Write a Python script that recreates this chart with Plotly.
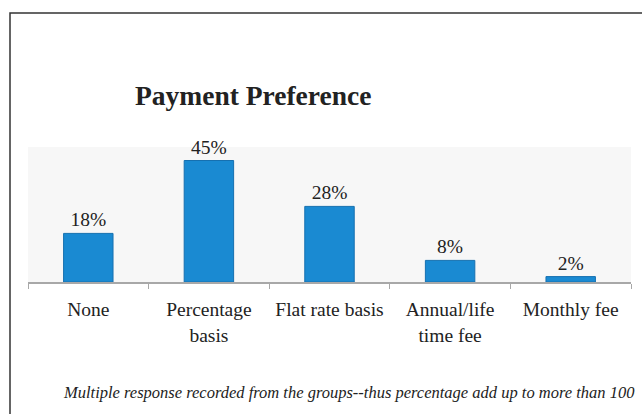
import plotly.graph_objects as go

categories = ["None", "Percentage<br>basis", "Flat rate basis", "Annual/life<br>time fee", "Monthly fee"]
values = [18, 45, 28, 8, 2]
labels = ["18%", "45%", "28%", "8%", "2%"]

W, H = 642, 414
L, R, T, B = 28, 11, 147, 132
pw, ph = W - L - R, H - T - B

def px(x):
    return (x - L) / pw

def py(y):
    return (H - B - y) / ph

serif = "Liberation Serif"

fig = go.Figure(go.Bar(
    x=categories, y=values, text=labels, textposition="outside",
    textfont=dict(family=serif, size=19.5, color="#222"),
    marker=dict(color="#1a8ad2", line=dict(color="#1670b0", width=1)),
    width=0.41, cliponaxis=False,
))

fig.update_layout(
    width=W, height=H,
    margin=dict(l=L, r=R, t=T, b=B),
    paper_bgcolor="white", plot_bgcolor="#f7f7f7",
    showlegend=False,
    font=dict(family=serif, color="#222"),
    xaxis=dict(showline=True, linecolor="#a8a8a8", linewidth=1.5, ticks="outside",
               tickson="boundaries", ticklen=5, tickcolor="#a8a8a8",
               ticklabelstandoff=9,
               tickfont=dict(family=serif, size=19.5, color="#222"), showgrid=False),
    yaxis=dict(range=[0, 50], visible=False, showgrid=False),
    shapes=[dict(type="rect", xref="paper", yref="paper",
                 x0=px(10), x1=px(660), y0=py(430), y1=py(13),
                 line=dict(color="#333", width=1.5))],
    annotations=[
        dict(text="<b>Payment Preference</b>", xref="paper", yref="paper",
             x=px(253), y=py(95), xanchor="center", yanchor="middle", showarrow=False,
             font=dict(family=serif, size=27.5, color="#222")),
        dict(text="<i>Multiple response recorded from the groups--thus percentage add up to more than 100</i>",
             xref="paper", yref="paper", x=px(349), y=py(392), xanchor="center", yanchor="middle",
             showarrow=False, font=dict(family=serif, size=16.5, color="#222")),
    ],
)

fig.write_html("out.html")
